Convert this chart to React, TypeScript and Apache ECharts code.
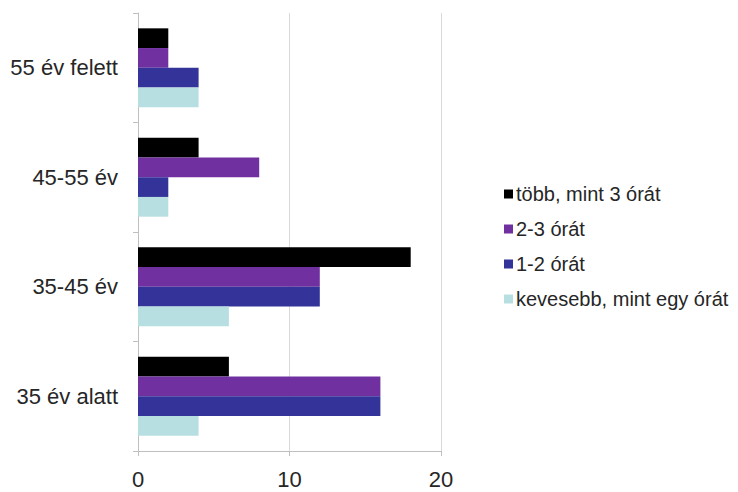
import React, { useEffect, useRef } from "react";
import * as echarts from "echarts";

const categories = ["35 év alatt", "35-45 év", "45-55 év", "55 év felett"];
const seriesNames = ["több, mint 3 órát", "2-3 órát", "1-2 órát", "kevesebb, mint egy órát"];
const moreThanThree = [6, 18, 4, 2];
const twoToThree = [16, 12, 8, 2];
const oneToTwo = [16, 12, 2, 4];
const lessThanOne = [4, 6, 2, 4];
const colors = ["#000000", "#7030a0", "#333399", "#b7dfe2"];

export default function App() {
  const ref = useRef<HTMLDivElement>(null);
  useEffect(() => {
    const chart = echarts.init(ref.current!, null, { renderer: "svg" });
    const values = [moreThanThree, twoToThree, oneToTwo, lessThanOne];
    chart.setOption({
      animation: false,
      textStyle: { fontFamily: "Liberation Sans, Arial, sans-serif" },
      grid: { left: 138, right: 297, top: 13, bottom: 41, containLabel: false },
      legend: {
        orient: "vertical",
        left: 499,
        top: 179,
        itemWidth: 9,
        itemHeight: 9,
        itemGap: 15,
        icon: "rect",
        data: seriesNames,
        textStyle: { fontSize: 20, color: "#262626", padding: [0, 0, 0, -2] },
      },
      xAxis: {
        type: "value",
        min: 0,
        max: 20,
        interval: 10,
        axisLine: { show: true, lineStyle: { color: "#bfbfbf" } },
        axisTick: { show: true, length: 5, lineStyle: { color: "#bfbfbf" } },
        splitLine: { show: true, lineStyle: { color: "#d9d9d9" } },
        axisLabel: { fontSize: 22, color: "#262626", margin: 17 },
      },
      yAxis: {
        type: "category",
        data: categories,
        axisLine: { show: true, lineStyle: { color: "#bfbfbf" } },
        axisTick: { show: true, length: 5, lineStyle: { color: "#bfbfbf" } },
        axisLabel: { fontSize: 22, color: "#262626", margin: 20 },
      },
      series: seriesNames.map((name, i) => ({
        name,
        type: "bar",
        data: values[i],
        barGap: "0%",
        barCategoryGap: "28%",
        itemStyle: { color: colors[i] },
      })),
    });
    return () => chart.dispose();
  }, []);
  return <div ref={ref} style={{ width: 738, height: 492, position: "absolute", left: 0, top: 0 }} />;
}
